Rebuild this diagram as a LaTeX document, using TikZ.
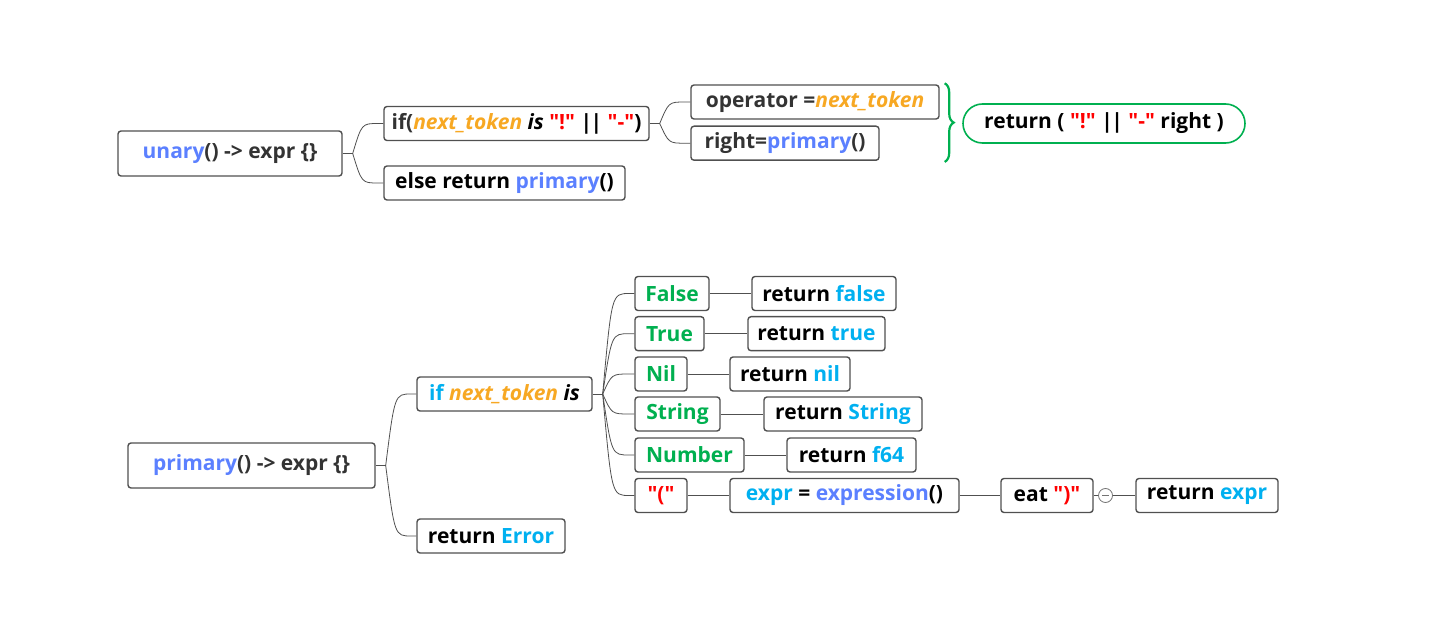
\documentclass[tikz,border=0pt]{standalone}
\usepackage{fontspec}
\newfontfamily\osans{Open Sans}
\usetikzlibrary{calc,decorations.pathreplacing}
\definecolor{fblue}{HTML}{5B80FF}
\definecolor{orng}{HTML}{F7A823}
\definecolor{rd}{HTML}{FF0000}
\definecolor{cy}{HTML}{00B0F0}
\definecolor{gr}{HTML}{00B050}
\definecolor{dk}{HTML}{333333}
\definecolor{bd}{HTML}{505050}
\newcommand\twig[2]{\draw[conn] (#1) .. controls ($(#1|-#2.west)+(9,0)$) .. ($(#2.west)+(-5,0)$) -- (#2.west);}
\newcommand\nt{\textcolor{orng}{\textit{next\_token}}}
\newcommand\oror{|\kern-1.5pt|}
\begin{document}
\begin{tikzpicture}[x=1pt,y=-1pt,
  box/.style={draw=bd, line width=1.4pt, rounded corners=3pt, fill=white, inner sep=0pt,
    minimum height=34pt, font=\osans\bfseries\fontsize{21}{24}\selectfont, text=black},
  conn/.style={draw=bd, line width=0.8pt}]
\useasboundingbox (0,0) rectangle (1454,644);
% ---------- top tree ----------
\node[box, minimum width=224pt, minimum height=45pt] (unary) at (230,153.5)
  {\textcolor{fblue}{unary}\textcolor{dk}{() -> expr \{\}}};
\node[box, minimum width=265pt] (ifa) at (516.5,123.5)
  {\textcolor{dk}{if(}\nt\ \textit{is} \textcolor{rd}{"!"} \oror{} \textcolor{rd}{"-"})};
\node[box, minimum width=241pt] (elsea) at (504.5,183)
  {else return \textcolor{fblue}{primary}()};
\node[box, minimum width=248pt] (op) at (815,102)
  {\textcolor{dk}{operator =}\nt};
\node[box, minimum width=188pt] (rt) at (785,143.2)
  {\textcolor{dk}{right=}\textcolor{fblue}{primary}\textcolor{dk}{()}};
\node[box, draw=gr, line width=1.6pt, rounded corners=19.5pt, minimum width=282pt, minimum height=39pt] (pill) at (1104,123.5)
  {return ( \textcolor{rd}{"!"} \oror{} \textcolor{rd}{"-"} right )};
\draw[gr, line width=2.2pt, decorate, decoration={brace, amplitude=9pt}]
  ($(op.north east)+(5,-1)$) -- ($(op.east|-rt.south)+(5,1)$);
\coordinate (s1) at ($(unary.east)+(10,0)$);
\draw[conn] (unary.east) -- (s1);
\twig{s1}{ifa}
\twig{s1}{elsea}
\coordinate (s2) at ($(ifa.east)+(10,0)$);
\draw[conn] (ifa.east) -- (s2);
\twig{s2}{op}
\twig{s2}{rt}
% ---------- bottom tree ----------
\node[box, minimum width=247pt, minimum height=45pt] (primary) at (251.5,465.5)
  {\textcolor{fblue}{primary}\textcolor{dk}{() -> expr \{\}}};
\node[box, minimum width=175pt] (ifb) at (504.5,394)
  {\textcolor{cy}{if} \nt\ \textit{is}};
\node[box, minimum width=148pt] (err) at (491,536)
  {return \textcolor{cy}{Error}};
\node[box, minimum width=74pt] (kfalse) at (672,293.5) {\textcolor{gr}{False}};
\node[box, minimum width=69pt] (ktrue) at (669.5,333.7) {\textcolor{gr}{True}};
\node[box, minimum width=52pt] (knil) at (661,374) {\textcolor{gr}{Nil}};
\node[box, minimum width=85pt] (kstr) at (677.5,414) {\textcolor{gr}{String}};
\node[box, minimum width=109pt] (knum) at (689.5,455) {\textcolor{gr}{Number}};
\node[box, minimum width=52pt] (kpar) at (661,495.5) {\textcolor{rd}{"("}};
\node[box, minimum width=144pt] (rfalse) at (824,293.5) {return \textcolor{cy}{false}};
\node[box, minimum width=137pt] (rtrue) at (816.5,333.7) {return \textcolor{cy}{true}};
\node[box, minimum width=120pt] (rnil) at (790,374) {return \textcolor{cy}{nil}};
\node[box, minimum width=158pt] (rstr) at (843,414) {return \textcolor{cy}{String}};
\node[box, minimum width=129pt] (rf64) at (851.5,455) {return \textcolor{cy}{f64}};
\node[box, minimum width=229pt] (rexpr) at (844.5,495.5)
  {\textcolor{cy}{expr} = \textcolor{fblue}{expression}()};
\node[box, minimum width=92pt] (eat) at (1047,495.5) {eat \textcolor{rd}{")"}};
\node[circle, draw=bd!80, line width=0.8pt, minimum size=14pt, inner sep=0pt, fill=white,
  path picture={\draw[bd!80, line width=0.8pt] ($(path picture bounding box.center)+(-3.5,0)$) -- ($(path picture bounding box.center)+(3.5,0)$);}]
  (col) at (1105.5,495.5) {};
\node[box, minimum width=142pt] (retexpr) at (1207,495.5) {return \textcolor{cy}{expr}};
\coordinate (s3) at ($(primary.east)+(10,0)$);
\draw[conn] (primary.east) -- (s3);
\twig{s3}{ifb}
\twig{s3}{err}
\coordinate (s4) at ($(ifb.east)+(10,0)$);
\draw[conn] (ifb.east) -- (s4);
\twig{s4}{kfalse}
\twig{s4}{ktrue}
\twig{s4}{knil}
\twig{s4}{kstr}
\twig{s4}{knum}
\twig{s4}{kpar}
\draw[conn] (kfalse) -- (rfalse);
\draw[conn] (ktrue) -- (rtrue);
\draw[conn] (knil) -- (rnil);
\draw[conn] (kstr) -- (rstr);
\draw[conn] (knum) -- (rf64);
\draw[conn] (kpar) -- (rexpr);
\draw[conn] (rexpr) -- (eat);
\draw[conn] (eat) -- (col);
\draw[conn] (col) -- (retexpr);
\end{tikzpicture}
\end{document}
